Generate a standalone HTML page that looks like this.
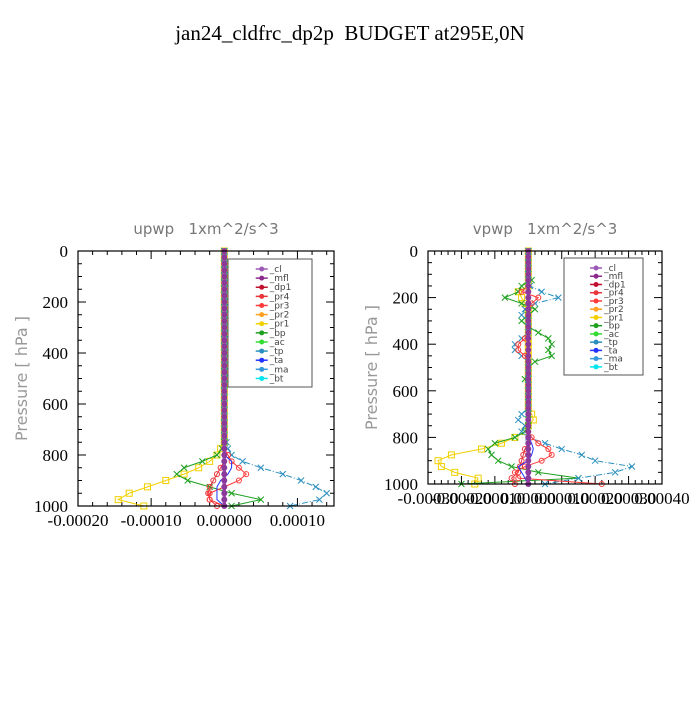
<!DOCTYPE html>
<html><head><meta charset="utf-8"><style>
body{margin:0;background:#fff;width:700px;height:700px;overflow:hidden}
svg text{font-family:"Liberation Serif",serif;white-space:pre}
</style></head><body>
<svg id="chart" width="700" height="700" viewBox="0 0 700 700">
<text x="350" y="40" text-anchor="middle" font-size="21">jan24_cldfrc_dp2p  BUDGET at295E,0N</text>
</svg>
<script>
// pressure levels (hPa)
const levels = [0,25,50,75,100,125,150,175,200,225,250,275,300,325,350,375,400,425,450,475,500,525,550,575,600,625,650,675,700,725,750,775,800,825,850,875,900,925,950,975,1000];
const seriesNames = ['_cl','_mfl','_dp1','_pr4','_pr3','_pr2','_pr1','_bp','_ac','_tp','_ta','_ma','_bt'];
// values in 1e-5 m^2/s^3, sparse by level
const upwpPr1 = {775:-0.5,800:-1,825:-2,850:-3.5,875:-5.5,900:-8,925:-10.5,950:-13,975:-14.5,1000:-11};
const upwpBp = {775:-0.3,800:-1,825:-3,850:-5.5,875:-6.5,900:-5,925:-2,950:1,975:5,1000:1};
const upwpTp = {750:0.3,775:0.5,800:1,825:2.5,850:5,875:8,900:10.5,925:12.5,950:14,975:13,1000:9};
const upwpPr3 = {800:0.5,825:1,850:2,875:3,900:2,925:0,950:-2,975:-2,1000:0};
const upwpPr4 = {850:-0.5,875:-1,900:-1.5,925:-2,950:-2.2,975:-2,1000:-1};
const upwpTa = {825:1,850:1,875:0.5,900:-0.5,925:-1,950:-1,975:-1};
const vpwpTp = {150:0.5,175:4,200:9,225:2,250:-1,275:-2,300:0,375:-2,400:-4,425:-4,450:-2,500:0,700:-2,725:-3,750:-1,775:-2,800:0,825:5,850:10,875:16,900:20,925:31,950:26,975:15,1000:5};
const vpwpBp = {125:1,150:-2,175:-3,200:-7,225:-2,250:2,275:0,300:-2,325:0,350:3,375:6,400:7,425:6,450:7,475:2,500:0,550:-1,775:-1,800:-4,825:-10,850:-12,875:-11,900:-9,925:-5,950:3,975:15,1000:-20};
const vpwpPr1 = {175:-3,200:-2,225:-1,700:1,725:1.5,775:-1,800:-4,825:-8,850:-14,875:-23,900:-27,925:-26,950:-22,975:-15,1000:-16};
const vpwpPr3 = {175:-2,200:3,225:1,375:-1,400:-3,425:-3,450:-1,800:1,825:3,850:6,875:7,900:4,925:-1,950:-4,975:-3,1000:22};
const vpwpPr4 = {850:-1,875:-1.5,900:-2,925:-2.5,950:-3,975:-5,1000:-4};
const vpwpTa = {825:1,850:1.5,875:1,900:0,925:-3,950:-2,975:-1};
const upwpXTicks = [-0.0002,-0.0001,0,0.0001];
const upwpXLabels = ['-0.00020','-0.00010','0.00000','0.00010'];
const vpwpXTicks = [-0.0003,-0.0002,-0.0001,0,0.0001,0.0002,0.0003,0.0004];
const vpwpXLabels = ['-0.00030','-0.00020','-0.00010','0.00000','0.00010','0.00020','0.00030','0.00040'];
const yTicks = [0,200,400,600,800,1000];

const colors={'_cl':'#9b59b6','_mfl':'#8b2a8b','_dp1':'#c0102e','_pr4':'#e8343a','_pr3':'#ff3a3a','_pr2':'#ffa020','_pr1':'#f2d000','_bp':'#1fa01f','_ac':'#33dd33','_tp':'#2a8fbf','_ta':'#2233ff','_ma':'#3399dd','_bt':'#00e5ee'};
const NS='http://www.w3.org/2000/svg';
const svg=document.getElementById('chart');
function mk(tag,attrs,parent){const e=document.createElementNS(NS,tag);for(const k in attrs)e.setAttribute(k,attrs[k]);(parent||svg).appendChild(e);return e;}

function panel(cfg){
  const g=mk('g',{});
  
  
  const {x0,x1,y0,y1,xmin,xmax}=cfg;
  const sx=v=>x0+(v-xmin)/(xmax-xmin)*(x1-x0);
  const sy=p=>y0+p/1000*(y1-y0);
  const t=mk('text',{x:(x0+x1)/2,y:y0-17,'text-anchor':'middle','font-size':'15',fill:'#777'},g);
  t.style.fontFamily='"DejaVu Sans",sans-serif';
  t.style.whiteSpace='pre';
  t.textContent=cfg.title;
  
  
  const yl=mk('text',{x:0,y:0,'text-anchor':'middle','font-size':'16',fill:'#999',transform:`translate(${x0-51},${(y0+y1)/2}) rotate(-90)`},g);
  yl.style.fontFamily='"DejaVu Sans",sans-serif';
  yl.style.whiteSpace='pre';
  yl.textContent='Pressure [ hPa ]';
  
  
  for(let p=0;p<=1000;p+=50){const L=p%200===0?8:4;
    mk('line',{x1:x0,x2:x0+L,y1:sy(p),y2:sy(p),stroke:'#000'},g);
    mk('line',{x1:x1,x2:x1-L,y1:sy(p),y2:sy(p),stroke:'#000'},g);}
  const step=cfg.minor;
  for(let v=xmin;v<=xmax+1e-12;v+=step){const maj=cfg.xTicks.some(t=>Math.abs(t-v)<1e-10);const L=maj?8:4;
    mk('line',{x1:sx(v),x2:sx(v),y1:y1,y2:y1-L,stroke:'#000'},g);
    mk('line',{x1:sx(v),x2:sx(v),y1:y0,y2:y0+L,stroke:'#000'},g);}
  yTicks.forEach(p=>{const tt=mk('text',{x:x0-10,y:sy(p)+6,'text-anchor':'end','font-size':'17'},g);tt.textContent=p;
    });
  cfg.xTicks.forEach((v,i)=>{const tt=mk('text',{x:sx(v),y:y1+20,'text-anchor':'middle','font-size':'17'},g);tt.textContent=cfg.xLabels[i];
    });
  const order=['_pr1','_bp','_tp','_pr4','_pr3','_ta','_ma','_ac','_bt','_pr2','_dp1','_mfl','_cl'];
  order.forEach(n=>{
    const d=cfg.data[n]||{};
    const pts=levels.map(p=>[sx((d[p]||0)*1e-5),sy(p)]);
    const thick=(n==='_cl'||n==='_mfl'||n==='_dp1');
    const pl=mk('polyline',{points:pts.map(q=>q.join(',')).join(' '),fill:'none',stroke:colors[n],'stroke-width':thick?3:1,'stroke-dasharray':(n==='_tp'||n==='_ma')?'6,2,1,2':'none'},g);
    
    
    pts.forEach((q,i)=>{
      if(n==='_pr1'){const m=mk('rect',{x:q[0]-3,y:q[1]-3,width:6,height:6,fill:'none',stroke:colors[n]},g);}
      else if(n==='_bp'||n==='_tp'){const m=mk('path',{d:`M${q[0]-3},${q[1]-3}L${q[0]+3},${q[1]+3}M${q[0]-3},${q[1]+3}L${q[0]+3},${q[1]-3}`,stroke:colors[n]},g);}
      else if(n==='_pr3'||n==='_pr4'){if(d[levels[i]]){const m=mk('circle',{cx:q[0],cy:q[1],r:2.5,fill:'none',stroke:colors[n]},g);}}
      else if(n==='_cl'){const m=mk('circle',{cx:q[0],cy:q[1],r:3,fill:'#8b3a9b'},g);}
    });
  });
  mk('rect',{x:x0,y:y0,width:x1-x0,height:y1-y0,fill:'none',stroke:'#000','stroke-width':1.2},g);
  const lg=mk('g',{},g);
  
  
  const L=cfg.legend;
  mk('rect',{x:L.x,y:L.y,width:L.w,height:L.h,fill:'#fff',stroke:'#555'},lg);
  const dy=(L.h-14)/12.5;
  seriesNames.forEach((n,i)=>{const yy=L.y+10+i*dy;
    const e=mk('g',{},lg);
    
    
    mk('line',{x1:L.x+L.w*0.33,x2:L.x+L.w*0.33+12,y1:yy,y2:yy,stroke:colors[n],'stroke-width':1.5},e);
    mk('circle',{cx:L.x+L.w*0.33+6,cy:yy,r:2.5,fill:colors[n]},e);
    const tt=mk('text',{x:L.x+L.w*0.33+14,y:yy+3,'font-size':'9',fill:'#444'},e);
    tt.style.fontFamily='"DejaVu Sans",sans-serif';
    tt.textContent=n;});
}
panel({name:'upwp',title:'upwp   1xm^2/s^3',x0:78,x1:334,y0:251,y1:506,xmin:-0.0002,xmax:0.00015,minor:0.00002,
  xTicks:upwpXTicks,xLabels:upwpXLabels,
  data:{'_pr1':upwpPr1,'_bp':upwpBp,'_tp':upwpTp,'_pr3':upwpPr3,'_pr4':upwpPr4,'_ta':upwpTa},
  legend:{x:228,y:259,w:84,h:128}});
panel({name:'vpwp',title:'vpwp   1xm^2/s^3',x0:428,x1:662,y0:251,y1:484,xmin:-0.0003,xmax:0.0004,minor:0.00002,
  xTicks:vpwpXTicks,xLabels:vpwpXLabels,
  data:{'_pr1':vpwpPr1,'_bp':vpwpBp,'_tp':vpwpTp,'_pr3':vpwpPr3,'_pr4':vpwpPr4,'_ta':vpwpTa},
  legend:{x:564,y:258,w:79,h:117}});
</script>
</body></html>
